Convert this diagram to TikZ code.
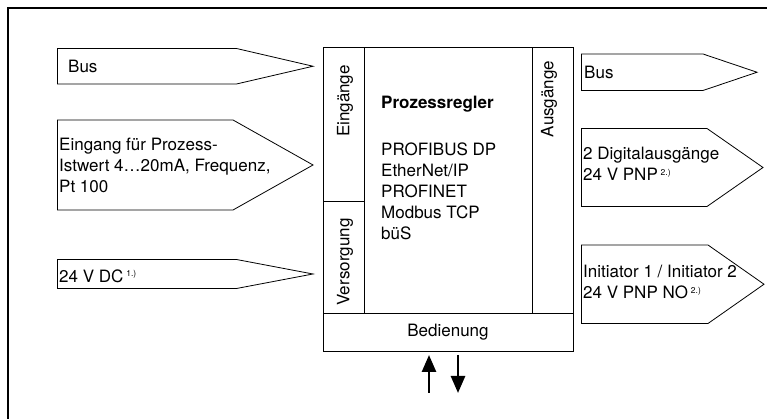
\documentclass[tikz,border=0pt]{standalone}
\usepackage{fontspec}
\setmainfont{TeX Gyre Heros}
\usetikzlibrary{arrows.meta}
\newcommand{\drawthin}{\draw[line width=0.8pt]}
\newcommand{\fussnote}[1]{\,\raisebox{0.6ex}{\fontsize{8.5}{9}\selectfont #1}}
% #1 name, #2 x left, #3 y top, #4 y bottom, #5 x shoulder, #6 x tip
\newcommand{\drawpfeil}[6]{
    \drawthin (#2,#3)--(#5,#3)--(#6,{(#3+#4)/2})--(#5,#4)--(#2,#4)--cycle;
    \coordinate (#1) at (#6,{(#3+#4)/2});
}
\tikzset{
    txt/.style={inner sep=0pt, anchor=west, align=left, font=\fontsize{17}{21}\selectfont},
    seite/.style={inner sep=0pt, rotate=90, font=\fontsize{17}{21}\selectfont},
    pfeil/.style={line width=2.6pt, -{Triangle[width=14pt,length=17pt]}}
}

\begin{document}
\begin{tikzpicture}[x=1pt,y=1pt]
\useasboundingbox (0,0) rectangle (767,419);
\draw[line width=1.3pt] (8,0)--(8,411)--(767,411);
\drawthin (323,371.5)--++(250,0)--++(0,-303.5)--++(-250,0)--cycle;
\drawthin (323,106)--++(250,0);
\drawthin (364,371.5)--++(0,-265.5);
\drawthin (532,371.5)--++(0,-265.5);
\drawthin (323,218)--++(41,0);
\drawpfeil{tipbusein}{57.5}{370.5}{335}{236.5}{313}
\drawpfeil{tipistwert}{57.5}{299}{209}{233}{313}
\drawpfeil{tipversorgung}{57.5}{159.5}{130.5}{236.5}{313}
\drawpfeil{tipbusaus}{581.5}{365}{328.5}{703}{757}
\drawpfeil{tipdigital}{581.5}{290.5}{212.5}{707}{763}
\drawpfeil{tipinitiator}{581.5}{174}{95.5}{708}{764}
\node[txt] (busein) at (68,352.75) {Bus};
\node[txt] (istwert) at (59,254) {Eingang für Prozess-\\Istwert 4…20mA, Frequenz,\\Pt 100};
\node[txt] (versorgung) at (59,143) {24 V DC\fussnote{1.)}};
\node[txt] (busaus) at (584,346.5) {Bus};
\node[txt] (digital) at (583,255) {2 Digitalausgänge\\24 V PNP\fussnote{2.)}};
\node[txt] (initiator) at (583,137) {Initiator 1 / Initiator 2\\24 V PNP NO\fussnote{2.)}};
\node[seite] (eingaenge) at (345,318) {Eingänge};
\node[seite] (versorg) at (345,157) {Versorgung};
\node[seite] (ausgaenge) at (549,320) {Ausgänge};
\node[txt] (regler) at (381,315) {\bfseries Prozessregler};
\node[txt] (protokolle) at (381,228) {PROFIBUS DP\\EtherNet/IP\\PROFINET\\Modbus TCP\\büS};
\node[inner sep=0pt, font=\fontsize{17}{21}\selectfont] (bedienung) at (448,87) {Bedienung};
\coordinate (hochu) at (429,26);
\coordinate (hocho) at (429,64);
\coordinate (runtero) at (458,64);
\coordinate (runteru) at (458,26);
\draw[pfeil] (hochu)--(hocho);
\draw[pfeil] (runtero)--(runteru);
\end{tikzpicture}
\end{document}
